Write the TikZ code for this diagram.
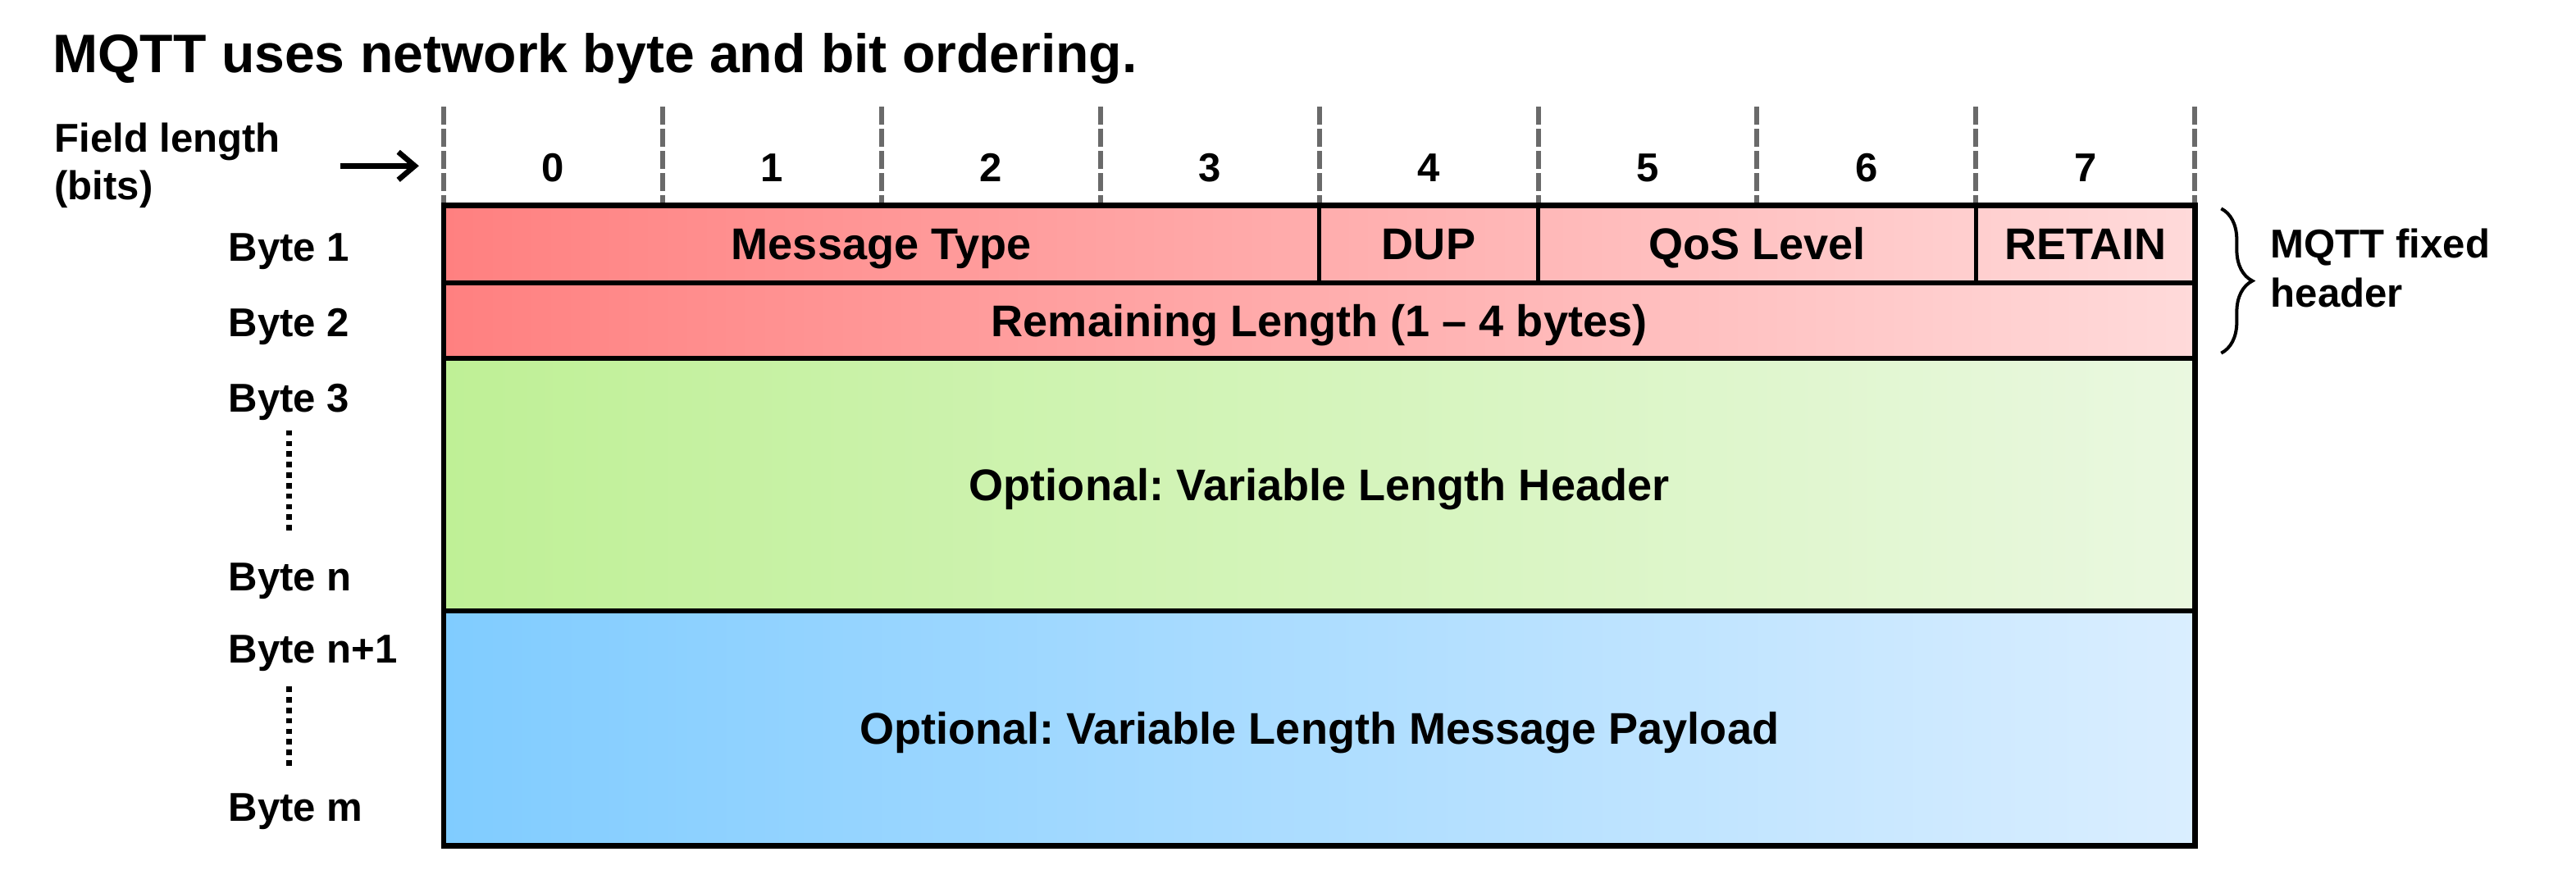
\documentclass[tikz,border=0pt]{standalone}
\usepackage{fontspec}
\setmainfont{Liberation Sans}
\usetikzlibrary{arrows.meta,decorations.pathreplacing}
\frenchspacing

\definecolor{hdrL}{HTML}{FF8080}
\definecolor{hdrR}{HTML}{FFDADA}
\definecolor{varL}{HTML}{BFF096}
\definecolor{varR}{HTML}{EAF8E0}
\definecolor{payL}{HTML}{80CCFF}
\definecolor{payR}{HTML}{DAEEFF}
\definecolor{tick}{HTML}{6A6A6A}

\begin{document}
\begin{tikzpicture}[x=1pt,y=-1pt,
  frame/.style={line width=3.3pt, line cap=rect},
  divider/.style={line width=3pt},
  celldivider/.style={line width=2.4pt},
  bitmark/.style={draw=tick, line width=3pt, dash pattern=on 11pt off 2.5pt},
  celltext/.style={font=\fontsize{27}{32}\selectfont\bfseries, anchor=base, inner sep=0pt},
  sidetext/.style={font=\fontsize{24.5}{29}\selectfont\bfseries, anchor=base west, inner sep=0pt},
  bittext/.style={font=\fontsize{24.5}{29}\selectfont\bfseries, anchor=base, inner sep=0pt},
  titletext/.style={font=\fontsize{33}{38}\selectfont\bfseries, anchor=base west, inner sep=0pt},
  dotline/.style={line width=3.4pt, dash pattern=on 3.3pt off 3.1pt},
]
\useasboundingbox (0,0) rectangle (1568,529.6);

% title
\node[titletext] (title) at (32,44) {MQTT uses network byte and bit ordering.};

% field length legend and arrow
\node[sidetext] (fl1) at (33,92.8) {Field length};
\node[sidetext] (fl2) at (33,121.8) {(bits)};
\coordinate (arrS) at (207,101);
\coordinate (arrE) at (255,101);
\draw[line width=3.3pt, -{Straight Barb[length=10pt,width=17pt,line width=3.3pt]}] (arrS) -- (arrE);

% bit boundaries and numbers
\foreach \i in {0,...,8}
  \draw[bitmark] (270+133.25*\i,65) -- (270+133.25*\i,125);
\foreach \i in {0,...,7}
  \node[bittext] (bit\i) at (336.6+133.25*\i,110.8) {\i};

% coloured fields
\shade[left color=hdrL, right color=hdrR] (270,125) rectangle (1336,218);
\shade[left color=varL, right color=varR] (270,218) rectangle (1336,372);
\shade[left color=payL, right color=payR] (270,372) rectangle (1336,515);

% field borders
\draw[divider] (270,172) -- (1336,172);
\draw[divider] (270,218) -- (1336,218);
\draw[divider] (270,372) -- (1336,372);
\draw[celldivider] (803,125) -- (803,172);
\draw[celldivider] (936.25,125) -- (936.25,172);
\draw[celldivider] (1202.75,125) -- (1202.75,172);
\draw[frame] (270,125) rectangle (1336,515);

% field names
\node[celltext] (msgtype) at (536.5,158.2) {Message Type};
\node[celltext] (dup) at (869.6,158.2) {DUP};
\node[celltext] (qos) at (1069.5,158.2) {QoS Level};
\node[celltext] (retain) at (1269.4,158.2) {RETAIN};
\node[celltext] (remlen) at (803,204.7) {Remaining Length (1 – 4 bytes)};
\node[celltext] (varhdr) at (803,304.7) {Optional: Variable Length Header};
\node[celltext] (payload) at (803,453.2) {Optional: Variable Length Message Payload};

% byte labels
\node[sidetext] (b1) at (139,158.8) {Byte 1};
\node[sidetext] (b2) at (139,204.8) {Byte 2};
\node[sidetext] (b3) at (139,250.8) {Byte 3};
\node[sidetext] (bn) at (139,359.8) {Byte n};
\node[sidetext] (bn1) at (139,403.8) {Byte n+1};
\node[sidetext] (bm) at (139,499.8) {Byte m};
\coordinate (d1s) at (176,262);
\coordinate (d1e) at (176,325);
\coordinate (d2s) at (176,418);
\coordinate (d2e) at (176,468);
\draw[dotline] (d1s) -- (d1e);
\draw[dotline] (d2s) -- (d2e);

% fixed header brace
\coordinate (brT) at (1352,127);
\coordinate (brB) at (1352,215);
\draw[line width=2pt, decorate, decoration={brace, amplitude=19pt}] (brT) -- (brB);
\node[sidetext] (fh1) at (1382,156.8) {MQTT fixed};
\node[sidetext] (fh2) at (1382,186.8) {header};
\end{tikzpicture}
\end{document}
